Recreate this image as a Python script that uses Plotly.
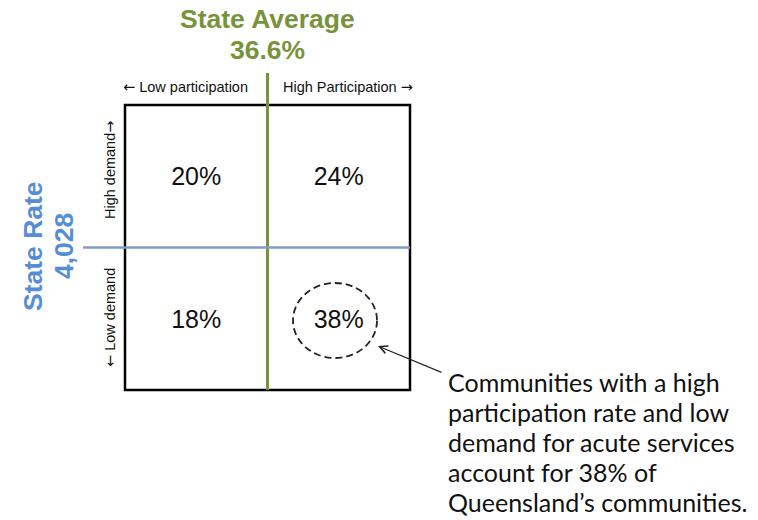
import plotly.graph_objects as go

# ---- data ----
participation = ["Low", "High", "Low", "High"]
demand = ["High", "High", "Low", "Low"]
share_pct = [20, 24, 18, 38]
state_average = "36.6%"
state_rate = "4,028"
callout_text = ["Communities with a high", "participation rate and low",
                "demand for acute services", "account for 38% of",
                "Queensland\u2019s communities."]

GREEN = "#77933C"
BLUE = "#558ED5"
BLUE_LINE = "#7F9CC8"
ARIAL = "Liberation Sans, Arial"

# coordinate system: box spans 0..2 in both axes
W, H = 758, 520
L, R, T, B = 125, 410, 105, 390
ppu = (R - L) / 2.0
xr = [-L / ppu, (W - L) / ppu]
yr = [-(H - B) / ppu, 2 + T / ppu]

def px_x(p):
    return (p - L) / ppu

def px_y(p):
    return 2 - (p - T) / ppu

xpos = {"Low": 0.5, "High": 1.5}
ypos = {"High": 1.5, "Low": 0.5}

fig = go.Figure()
fig.add_trace(go.Scatter(
    x=[xpos[p] for p in participation],
    y=[ypos[d] - 0.02 for d in demand],
    mode="text",
    text=[f"{v}%" for v in share_pct],
    textfont=dict(family=ARIAL, size=25, color="#111111"),
    hoverinfo="skip", showlegend=False))

shapes = [
    dict(type="rect", x0=0, x1=2, y0=0, y1=2, line=dict(color="black", width=2.5)),
    dict(type="line", x0=1, x1=1, y0=0, y1=px_y(73), line=dict(color=GREEN, width=3)),
    dict(type="line", x0=px_x(83), x1=2, y0=1, y1=1, line=dict(color=BLUE_LINE, width=2.5)),
    dict(type="circle", x0=px_x(293), x1=px_x(377),
         y0=px_y(358), y1=px_y(283),
         line=dict(color="#222222", width=1.8, dash="7px,4px")),
]

def arrow(ch):
    return "<span style=\"font-family:'DejaVu Sans';\">" + ch + "</span>"

ann = []
big = dict(family=ARIAL, size=26.5, color=GREEN)
ann.append(dict(x=1, y=px_y(19), text="<b>State Average</b>", showarrow=False, font=big))
ann.append(dict(x=1, y=px_y(50), text="<b>" + state_average + "</b>", showarrow=False, font=big))
bigb = dict(family=ARIAL, size=26.5, color=BLUE)
ann.append(dict(x=px_x(33), y=px_y(246), text="<b>State Rate</b>", textangle=-90, showarrow=False, font=bigb))
ann.append(dict(x=px_x(64), y=px_y(246), text="<b>" + state_rate + "</b>", textangle=-90, showarrow=False, font=bigb))
small = dict(family=ARIAL, size=14.5, color="#111111")
ann.append(dict(x=px_x(185), y=px_y(87), text=arrow("\u2190") + " Low participation", showarrow=False, font=small))
ann.append(dict(x=px_x(348), y=px_y(87), text="High Participation " + arrow("\u2192"), showarrow=False, font=small))
ann.append(dict(x=px_x(110), y=px_y(170), text="High demand" + arrow("\u2192"), textangle=-90, showarrow=False, font=small))
ann.append(dict(x=px_x(110), y=px_y(318), text=arrow("\u2190") + " Low demand", textangle=-90, showarrow=False, font=small))
# arrow
ann.append(dict(x=px_x(378), y=px_y(346), ax=px_x(443), ay=px_y(373), axref="x", ayref="y",
                xref="x", yref="y", text="", showarrow=True, arrowhead=5, arrowsize=1.3,
                arrowwidth=1.2, arrowcolor="#222222"))
for i, line in enumerate(callout_text):
    ann.append(dict(x=px_x(446), y=px_y(382 + 30 * i), xanchor="left", yanchor="middle", align="left",
                    text=line, showarrow=False,
                    font=dict(family="Lato, Open Sans", size=25, color="#111111")))

fig.update_layout(
    width=W, height=H, margin=dict(l=0, r=0, t=0, b=0),
    paper_bgcolor="white", plot_bgcolor="white",
    xaxis=dict(range=xr, visible=False, fixedrange=True),
    yaxis=dict(range=yr, visible=False, fixedrange=True),
    shapes=shapes, annotations=ann, showlegend=False)

fig.write_html("out.html", config={"displayModeBar": False},
               post_script="document.body.style.margin='0';")
